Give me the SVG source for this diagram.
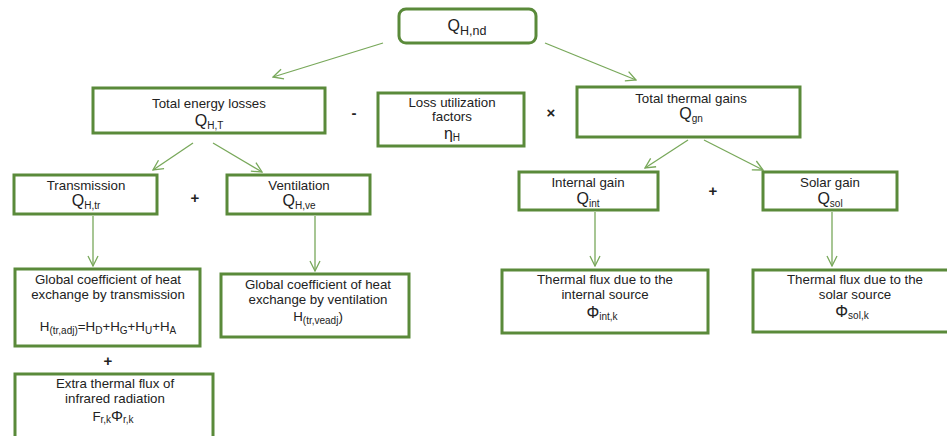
<svg xmlns="http://www.w3.org/2000/svg" width="947" height="436" viewBox="0 0 947 436">
<defs>
<marker id="ah" viewBox="0 0 12 12" refX="11" refY="6" markerWidth="12" markerHeight="12" markerUnits="userSpaceOnUse" orient="auto">
<path d="M1,1 L11,6 L1,11" fill="none" stroke="#78a85a" stroke-width="1.3"/>
</marker>
</defs>
<style>
.box{fill:#fff;stroke:#5a8a3a;stroke-width:3}
.t{font-family:"Liberation Sans","Open Sans",sans-serif;font-size:13.3px;fill:#222;text-anchor:middle}
.q{font-family:"Liberation Sans","Open Sans",sans-serif;font-size:16px;fill:#222;text-anchor:middle}
.s{font-size:10px}
.op{font-family:"Liberation Sans","Open Sans",sans-serif;font-size:15px;font-weight:bold;fill:#222;text-anchor:middle}
.c{stroke:#78a85a;stroke-width:1.3;fill:none;marker-end:url(#ah)}
</style>
<rect width="947" height="436" fill="#fff"/>
<g id="connectors">
<line class="c" x1="383" y1="43" x2="273" y2="77"/>
<line class="c" x1="545" y1="43" x2="636" y2="80"/>
<line class="c" x1="193" y1="143" x2="153" y2="170"/>
<line class="c" x1="213" y1="143" x2="262" y2="172"/>
<line class="c" x1="688" y1="140" x2="645" y2="168"/>
<line class="c" x1="704" y1="140" x2="763" y2="170"/>
<line class="c" x1="93" y1="216" x2="93" y2="266"/>
<line class="c" x1="315" y1="216" x2="315" y2="271"/>
<line class="c" x1="595" y1="212" x2="595" y2="266"/>
<line class="c" x1="832" y1="212" x2="832" y2="266"/>
</g>
<g id="qhnd">
<rect class="box" x="399" y="9" width="137" height="34" rx="7"/>
<text class="q" x="467" y="31" font-size="18">Q<tspan font-size="12.5" dy="4">H,nd</tspan></text>
</g>
<g id="losses">
<rect class="box" x="93" y="88" width="232" height="45"/>
<text class="t" x="209" y="108">Total energy losses</text>
<text class="q" x="209" y="126">Q<tspan class="s" dy="3">H,T</tspan></text>
</g>
<text class="op" x="354" y="118">-</text>
<g id="util">
<rect class="box" x="378" y="93" width="146" height="53"/>
<text class="t" x="452" y="107">Loss utilization</text>
<text class="t" x="452" y="121">factors</text>
<text class="q" x="452" y="139" font-size="15">η<tspan class="s" dy="2">H</tspan></text>
</g>
<text class="op" x="551" y="118">×</text>
<g id="gains">
<rect class="box" x="577" y="87" width="223" height="50"/>
<text class="t" x="691" y="103">Total thermal gains</text>
<text class="q" x="691" y="119">Q<tspan class="s" dy="3">gn</tspan></text>
</g>
<g id="transmission">
<rect class="box" x="14" y="175" width="143" height="39"/>
<text class="t" x="86" y="190">Transmission</text>
<text class="q" x="86" y="206">Q<tspan class="s" dy="3">H,tr</tspan></text>
</g>
<text class="op" x="195" y="203">+</text>
<g id="ventilation">
<rect class="box" x="227" y="175" width="143" height="39"/>
<text class="t" x="299" y="190">Ventilation</text>
<text class="q" x="299" y="206">Q<tspan class="s" dy="3">H,ve</tspan></text>
</g>
<g id="internal">
<rect class="box" x="519" y="172" width="139" height="38"/>
<text class="t" x="588" y="187">Internal gain</text>
<text class="q" x="588" y="204">Q<tspan class="s" dy="3">int</tspan></text>
</g>
<text class="op" x="713" y="196">+</text>
<g id="solar">
<rect class="box" x="763" y="172" width="134" height="38"/>
<text class="t" x="830" y="187">Solar gain</text>
<text class="q" x="830" y="204">Q<tspan class="s" dy="3">sol</tspan></text>
</g>
<g id="htr">
<rect class="box" x="15" y="269" width="185" height="77"/>
<text class="t" x="108" y="284">Global coefficient of heat</text>
<text class="t" x="108" y="299">exchange by transmission</text>
<text class="t" x="108" y="331" font-size="14">H<tspan class="s" dy="3">(tr,adj)</tspan><tspan dy="-3">=H</tspan><tspan class="s" dy="3">D</tspan><tspan dy="-3">+H</tspan><tspan class="s" dy="3">G</tspan><tspan dy="-3">+H</tspan><tspan class="s" dy="3">U</tspan><tspan dy="-3">+H</tspan><tspan class="s" dy="3">A</tspan></text>
</g>
<text class="op" x="108" y="366">+</text>
<g id="hve">
<rect class="box" x="221" y="274" width="188" height="63"/>
<text class="t" x="318" y="289">Global coefficient of heat</text>
<text class="t" x="318" y="304">exchange by ventilation</text>
<text class="t" x="318" y="321" font-size="14">H<tspan class="s" dy="3">(tr,veadj</tspan><tspan dy="-3">)</tspan></text>
</g>
<g id="phiint">
<rect class="box" x="502" y="270" width="206" height="63"/>
<text class="t" x="605" y="284">Thermal flux due to the</text>
<text class="t" x="605" y="299">internal source</text>
<text class="q" x="602" y="318" font-size="15">Φ<tspan class="s" dy="2">int,k</tspan></text>
</g>
<g id="phisol">
<rect class="box" x="753" y="270" width="196" height="62"/>
<text class="t" x="855" y="284">Thermal flux due to the</text>
<text class="t" x="855" y="299">solar source</text>
<text class="q" x="852" y="317" font-size="15">Φ<tspan class="s" dy="2">sol,k</tspan></text>
</g>
<g id="extra">
<rect class="box" x="15" y="374" width="198" height="65"/>
<text class="t" x="115" y="388">Extra thermal flux of</text>
<text class="t" x="115" y="403">infrared radiation</text>
<text class="t" x="113" y="421" font-size="14">F<tspan class="s" dy="2">r,k</tspan><tspan font-size="15" dy="-2">Φ</tspan><tspan class="s" dy="2">r,k</tspan></text>
</g>
</svg>
